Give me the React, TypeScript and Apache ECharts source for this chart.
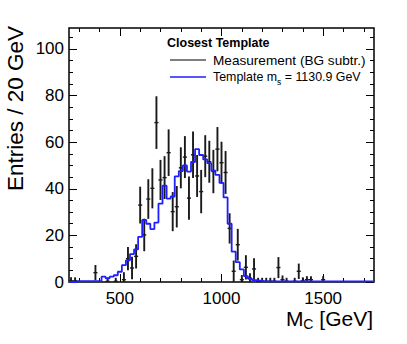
import React, { useEffect, useRef } from "react";
import * as echarts from "echarts";

// Histogram binning (GeV)
const BIN_MIN = 250;
const BIN_WIDTH = 20;

// Template histogram (blue), one value per 20 GeV bin starting at 250 GeV
const templateValues = [
  0, 0, 0.4, 0.4, 0.4, 0.4, 0.4, 0.4, 2.3, 1.6,
  2.3, 2.9, 4.4, 7.2, 9.3, 12, 14, 19.4, 26.6, 25,
  22.7, 25.5, 33.6, 41.3, 35.8, 36.7, 45.3, 47.6, 50, 47.4,
  51.5, 57, 54.5, 52.6, 51, 47.8, 46, 42.5, 36.3, 25,
  13, 8.5, 5.4, 2.5, 1.4, 0.8, 0.6, 0.4, 0.3, 0.3,
  0.3, 0.3, 0.3, 0.3, 0.3, 0.3, 0.3, 0.3, 0.3, 0.3,
  0.3, 0.3, 0.3, 0.3, 0.3, 0.3, 0.3, 0.3, 0.3, 0.3,
  0.3, 0.3, 0.3, 0.3, 0.3,
];

// Measurement (BG subtracted): value and error per bin (null = no entry)
const measValues: (number | null)[] = [
  0.5, 0.5, null, null, null, null, 4, null, null, 0.3,
  null, 0.3, null, 1, 10, 6, 11, 33, 20.2, 35.6,
  40.2, 68.4, 43.8, 44.8, 55.5, 30.2, 32.3, 49, 53.6, 36,
  54.6, 45.5, 38.8, 54, 51.6, 47.4, 57, 51.2, 47, 23,
  4.6, 16, 1, 6.3, 1.6, 5.6, 0.3, 0.3, 0.3, 0.3,
  0.3, 6.2, 1, 0.3, null, 0.3, 4.6, 0.5, 1, 1,
  null, null, 1, null, null, null, null, null, null, null,
  null, null, null, null, null,
];
const measErrors: (number | null)[] = [
  1.5, 1.5, null, null, null, null, 3.3, null, null, 1.5,
  null, 1.5, null, 3.2, 5, 4.8, 5.2, 7.9, 7, 8.5,
  8.6, 11.3, 8.6, 9.2, 10, 8.4, 8.9, 8.8, 9, 9.3,
  10, 9, 9.3, 9, 9, 9.3, 9.5, 9, 9.2, 6.5,
  4.6, 6.8, 2, 5.2, 2.2, 4.6, 1.5, 1.5, 1.5, 1.5,
  1.5, 4.5, 1.8, 1.5, null, 1.5, 3.3, 1.5, 1.5, 1.5,
  null, null, 1.5, null, null, null, null, null, null, null,
  null, null, null, null, null,
];

// Axes
const X_MIN = 250;
const X_MAX = 1750;
const Y_MIN = 0;
const Y_MAX = 109;
const xMajorTicks = [500, 1000, 1500];
const xMinorTicks = [300, 400, 600, 700, 800, 900, 1100, 1200, 1300, 1400, 1600, 1700];
const yMajorTicks = [0, 20, 40, 60, 80, 100];
const yMinorTicks = [5, 10, 15, 25, 30, 35, 45, 50, 55, 65, 70, 75, 85, 90, 95, 105];

const FONT = "'Liberation Sans', Arial, Helvetica, sans-serif";

export default function App() {
  const ref = useRef<HTMLDivElement>(null);

  useEffect(() => {
    if (!ref.current) return;
    const chart = echarts.init(ref.current, null, { renderer: "svg" });

    // step histogram built from bin edges
    const templateLine: number[][] = [];
    templateValues.forEach((v, i) => {
      const lo = BIN_MIN + i * BIN_WIDTH;
      templateLine.push([lo, v], [lo + BIN_WIDTH, v]);
    });

    const measData: number[][] = [];
    measValues.forEach((v, i) => {
      const e = measErrors[i];
      if (v === null || e === null) return;
      measData.push([BIN_MIN + i * BIN_WIDTH + BIN_WIDTH / 2, v, e]);
    });

    const mkX = (pos: "top" | "bottom", ticks: number[], len: number, labels: boolean) => ({
      type: "value",
      min: X_MIN,
      max: X_MAX,
      position: pos,
      axisLine: { show: false, onZero: false },
      splitLine: { show: false },
      axisTick: {
        show: true,
        inside: true,
        length: len,
        customValues: ticks,
        lineStyle: { color: "#000", width: 1 },
      },
      axisLabel: labels
        ? {
            show: true,
            customValues: ticks,
            fontSize: 17,
            color: "#000",
            fontFamily: FONT,
            margin: 8,
            formatter: (v: number) => String(v),
          }
        : { show: false },
    });

    const mkY = (pos: "left" | "right", ticks: number[], len: number, labels: boolean) => ({
      type: "value",
      min: Y_MIN,
      max: Y_MAX,
      position: pos,
      axisLine: { show: false, onZero: false },
      splitLine: { show: false },
      axisTick: {
        show: true,
        inside: true,
        length: len,
        customValues: ticks,
        lineStyle: { color: "#000", width: 1 },
      },
      axisLabel: labels
        ? {
            show: true,
            customValues: ticks,
            fontSize: 17,
            color: "#000",
            fontFamily: FONT,
            margin: 5,
            formatter: (v: number) => String(v),
          }
        : { show: false },
    });

    chart.setOption({
      animation: false,
      backgroundColor: "#fff",
      grid: {
        left: 69,
        right: 33,
        top: 28,
        bottom: 62,
        show: true,
        borderColor: "#000",
        borderWidth: 1.5,
        backgroundColor: "transparent",
      },
      xAxis: [
        mkX("bottom", xMajorTicks, 8, true),
        mkX("bottom", xMinorTicks, 4, false),
        mkX("top", xMajorTicks, 8, false),
        mkX("top", xMinorTicks, 4, false),
      ],
      yAxis: [
        mkY("left", yMajorTicks, 8, true),
        mkY("left", yMinorTicks, 4, false),
        mkY("right", yMajorTicks, 8, false),
        mkY("right", yMinorTicks, 4, false),
      ],
      series: [
        {
          type: "custom",
          name: "Measurement (BG subtr.)",
          xAxisIndex: 0,
          yAxisIndex: 0,
          data: measData,
          encode: { x: 0, y: 1 },
          clip: true,
          z: 2,
          renderItem: (params: any, api: any) => {
            const x = api.value(0);
            const v = api.value(1);
            const e = api.value(2);
            const top = api.coord([x, v + e]);
            const bot = api.coord([x, Math.max(0, v - e)]);
            const l = api.coord([x - BIN_WIDTH / 2, v]);
            const r = api.coord([x + BIN_WIDTH / 2, v]);
            return {
              type: "group",
              children: [
                {
                  type: "line",
                  shape: { x1: top[0], y1: top[1], x2: bot[0], y2: bot[1] },
                  style: { stroke: "#1a1a1a", lineWidth: 1.9 },
                },
                {
                  type: "line",
                  shape: { x1: l[0], y1: l[1], x2: r[0], y2: r[1] },
                  style: { stroke: "#1a1a1a", lineWidth: 1.4 },
                },
              ],
            };
          },
        },
        {
          type: "line",
          name: "Template",
          xAxisIndex: 0,
          yAxisIndex: 0,
          data: templateLine,
          symbol: "none",
          z: 3,
          lineStyle: { color: "#1e1eff", width: 1.8 },
        },
      ],
      graphic: [
        {
          type: "text",
          x: 167,
          y: 43,
          style: {
            text: "Closest Template",
            font: `bold 12.5px ${FONT}`,
            fill: "#000",
            verticalAlign: "middle",
          },
        },
        {
          type: "line",
          shape: { x1: 170, y1: 60, x2: 206, y2: 60 },
          style: { stroke: "#000", lineWidth: 1.2 },
        },
        {
          type: "text",
          x: 213,
          y: 60,
          style: {
            text: "Measurement (BG subtr.)",
            font: `13.6px ${FONT}`,
            fill: "#000",
            verticalAlign: "middle",
          },
        },
        {
          type: "line",
          shape: { x1: 170, y1: 77, x2: 206, y2: 77 },
          style: { stroke: "#1e1eff", lineWidth: 1.5 },
        },
        {
          type: "text",
          x: 213,
          y: 77,
          style: {
            text: "{m|Template m}{s|s}{m| = 1130.9 GeV}",
            verticalAlign: "middle",
            rich: {
              m: { fontSize: 12.4, fontFamily: FONT, fill: "#000", lineHeight: 18, verticalAlign: "middle" },
              s: { fontSize: 8.5, fontFamily: FONT, fill: "#000", lineHeight: 9, verticalAlign: "bottom" },
            },
          },
        },
        {
          type: "text",
          x: 373,
          y: 318,
          style: {
            text: "{m|M}{s|C}{m| [GeV]}",
            align: "right",
            verticalAlign: "middle",
            rich: {
              m: { fontSize: 21, fontFamily: FONT, fill: "#000", lineHeight: 26, verticalAlign: "middle" },
              s: { fontSize: 14, fontFamily: FONT, fill: "#000", lineHeight: 14, verticalAlign: "bottom" },
            },
          },
        },
        {
          type: "text",
          x: 15,
          y: 26,
          rotation: Math.PI / 2,
          style: {
            text: "Entries / 20 GeV",
            font: `22.5px ${FONT}`,
            fill: "#000",
            align: "right",
            verticalAlign: "middle",
          },
        },
      ],
    });

    return () => chart.dispose();
  }, []);

  return (
    <div
      ref={ref}
      style={{ position: "absolute", left: 0, top: 0, width: 407, height: 344, background: "#fff" }}
    />
  );
}
